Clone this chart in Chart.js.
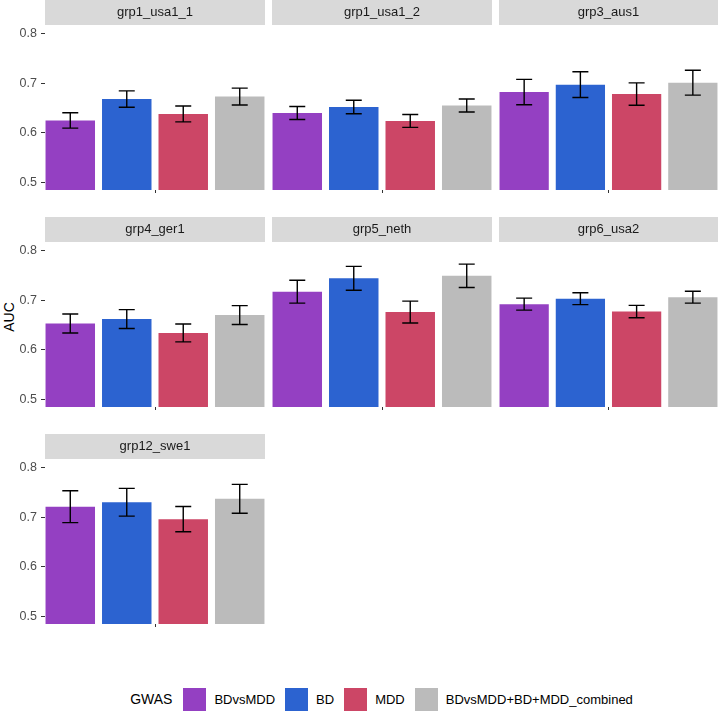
<!DOCTYPE html>
<html>
<head>
<meta charset="utf-8">
<script src="https://cdn.jsdelivr.net/npm/chart.js@4"></script>
<style>
  body { margin: 0; background: #fff; font-family: "Liberation Sans", Arial, sans-serif; }
  #wrap { position: relative; width: 720px; height: 712px; overflow: hidden; }
  .panel { position: absolute; }
  #ylab { position: absolute; left: 9px; top: 317px; transform: translate(-50%, -50%) rotate(-90deg); font-size: 14px; color: #000; white-space: nowrap; }
  #legend { position: absolute; left: 50px; width: 673px; top: 687px; height: 24px; display: flex; align-items: center; justify-content: center; font-size: 13px; color: #000; }
  #legend .title { font-size: 14px; margin-right: 11px; }
  #legend .key { width: 23px; height: 23px; }
  #legend .lab { margin-left: 8px; margin-right: 10px; }
</style>
</head>
<body>
<div id="wrap">
  <div id="ylab">AUC</div>
  <div id="legend"></div>
</div>
<script>
// dados
const panels = ["grp1_usa1_1", "grp1_usa1_2", "grp3_aus1", "grp4_ger1", "grp5_neth", "grp6_usa2", "grp12_swe1"];
const gwas = ["BDvsMDD", "BD", "MDD", "BDvsMDD+BD+MDD_combined"];
const aucBDvsMDD = [0.625, 0.640, 0.682, 0.653, 0.717, 0.692, 0.721];
const aucBD = [0.668, 0.652, 0.697, 0.662, 0.744, 0.703, 0.730];
const aucMDD = [0.638, 0.624, 0.678, 0.634, 0.676, 0.677, 0.696];
const aucCombined = [0.673, 0.655, 0.701, 0.670, 0.749, 0.706, 0.737];
const errBDvsMDD = [0.0155, 0.013, 0.0255, 0.019, 0.023, 0.012, 0.032];
const errBD = [0.0165, 0.0135, 0.026, 0.019, 0.024, 0.012, 0.028];
const errMDD = [0.016, 0.013, 0.0226, 0.018, 0.022, 0.0125, 0.0255];
const errCombined = [0.017, 0.013, 0.025, 0.019, 0.0235, 0.012, 0.029];
const yTicks = [0.5, 0.6, 0.7, 0.8];

const cores = ["#9440C2", "#2C63D0", "#CC4666", "#BBBBBB"];
const aucs = [aucBDvsMDD, aucBD, aucMDD, aucCombined];
const errs = [errBDvsMDD, errBD, errMDD, errCombined];

Chart.defaults.font.family = '"Liberation Sans", Arial, sans-serif';

// layout da grade 3x3
const colLeft = [45, 272, 499];
const colWidth = [220, 220, 219];
const rowTop = [0, 217, 434];
const stripH = 25;
const panelH = 164;

// faixa cinza com o nome do painel
const stripPlugin = {
  id: "strip",
  beforeDraw(chart, args, opts) {
    const a = chart.chartArea;
    const ctx = chart.ctx;
    ctx.save();
    ctx.fillStyle = "#D9D9D9";
    ctx.fillRect(a.left, a.top - stripH - 1, a.right - a.left, stripH);
    ctx.fillStyle = "#1A1A1A";
    ctx.font = '13px "Liberation Sans", Arial, sans-serif';
    ctx.textAlign = "center";
    ctx.textBaseline = "middle";
    ctx.fillText(opts.text, (a.left + a.right) / 2, a.top - 1 - stripH / 2);
    ctx.restore();
  }
};

// barras de erro
const errPlugin = {
  id: "errbars",
  afterDatasetsDraw(chart) {
    const ctx = chart.ctx;
    const y = chart.scales.y;
    ctx.save();
    ctx.strokeStyle = "#000";
    ctx.lineWidth = 1.4;
    chart.data.datasets.forEach((ds, i) => {
      const meta = chart.getDatasetMeta(i);
      meta.data.forEach((bar, j) => {
        const v = ds.data[j];
        const e = ds.err[j];
        const top = y.getPixelForValue(v + e);
        const bot = y.getPixelForValue(v - e);
        const half = 8;
        ctx.beginPath();
        ctx.moveTo(bar.x, top); ctx.lineTo(bar.x, bot);
        ctx.moveTo(bar.x - half, top); ctx.lineTo(bar.x + half, top);
        ctx.moveTo(bar.x - half, bot); ctx.lineTo(bar.x + half, bot);
        ctx.stroke();
      });
    });
    ctx.restore();
  }
};

const wrap = document.getElementById("wrap");

panels.forEach((nome, p) => {
  const col = p % 3;
  const row = Math.floor(p / 3);
  const primeira = col === 0;
  const left = primeira ? 0 : colLeft[col];
  const w = primeira ? colLeft[0] + colWidth[0] : colWidth[col];
  const h = stripH + 1 + panelH + 4;

  const div = document.createElement("div");
  div.className = "panel";
  div.style.left = left + "px";
  div.style.top = rowTop[row] + "px";
  const canvas = document.createElement("canvas");
  canvas.width = w;
  canvas.height = h;
  canvas.style.width = w + "px";
  canvas.style.height = h + "px";
  div.appendChild(canvas);
  wrap.appendChild(div);

  new Chart(canvas, {
    type: "bar",
    data: {
      labels: [""],
      datasets: gwas.map((g, k) => ({
        label: g,
        data: [aucs[k][p]],
        err: [errs[k][p]],
        backgroundColor: cores[k],
        borderWidth: 0,
        categoryPercentage: 1.027,
        barPercentage: 0.876
      }))
    },
    options: {
      responsive: false,
      animation: false,
      devicePixelRatio: 1,
      layout: { padding: { top: stripH + 1, left: 0, right: 0, bottom: 0 } },
      plugins: {
        legend: { display: false },
        tooltip: { enabled: false },
        strip: { text: nome }
      },
      scales: {
        x: {
          ticks: { display: false },
          border: { display: false },
          grid: { offset: false, drawOnChartArea: false, drawTicks: true, tickLength: 3, color: "#333333" },
          afterFit: s => { s.height = 4; }
        },
        y: {
          display: primeira,
          min: 0.485,
          max: 0.815,
          afterBuildTicks: s => { s.ticks = yTicks.map(v => ({ value: v })); },
          afterFit: s => {
            s.width = primeira ? colLeft[0] : 0;
            s.paddingTop = 0;
            s.paddingBottom = 0;
          },
          ticks: {
            color: "#4D4D4D",
            font: { size: 12.5 },
            padding: 4,
            callback: v => v.toFixed(1)
          },
          border: { display: false },
          grid: { drawOnChartArea: false, drawTicks: true, tickLength: 4, color: "#333333" }
        }
      }
    },
    plugins: [stripPlugin, errPlugin]
  });
});

// legenda
const leg = document.getElementById("legend");
const t = document.createElement("span");
t.className = "title";
t.textContent = "GWAS";
leg.appendChild(t);
gwas.forEach((g, k) => {
  const key = document.createElement("span");
  key.className = "key";
  key.style.background = cores[k];
  leg.appendChild(key);
  const lab = document.createElement("span");
  lab.className = "lab";
  lab.textContent = g;
  leg.appendChild(lab);
});
</script>
</body>
</html>
